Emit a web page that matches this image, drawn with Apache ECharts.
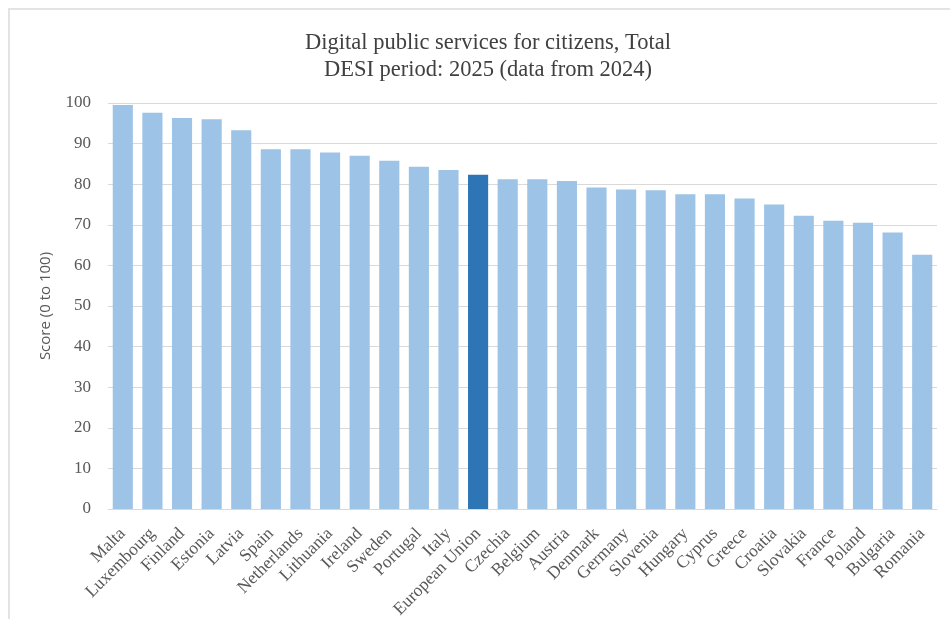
<!DOCTYPE html>
<html><head><meta charset="utf-8">
<script src="https://cdn.jsdelivr.net/npm/echarts@6/dist/echarts.min.js"></script>
<style>html,body{margin:0;padding:0;background:#fff}
#frame{position:absolute;left:8px;top:8px;width:950px;height:619px;border-left:2px solid #e3e3e3;border-top:2px solid #e3e3e3;box-sizing:border-box}
#c{position:absolute;left:0;top:0;width:950px;height:619px}</style>
</head><body><div id="frame"></div><div id="c"></div>
<script>
const categories = ["Malta","Luxembourg","Finland","Estonia","Latvia","Spain","Netherlands","Lithuania","Ireland","Sweden","Portugal","Italy","European Union","Czechia","Belgium","Austria","Denmark","Germany","Slovenia","Hungary","Cyprus","Greece","Croatia","Slovakia","France","Poland","Bulgaria","Romania"];
const scores = [99.5,97.6,96.3,96.0,93.3,88.6,88.6,87.8,87.0,85.8,84.3,83.5,82.3,81.2,81.2,80.8,79.2,78.7,78.5,77.5,77.5,76.5,75.0,72.2,71.0,70.5,68.1,62.6];
const highlight = "European Union";
const yTicks = [0,10,20,30,40,50,60,70,80,90,100];

const chart = echarts.init(document.getElementById('c'));
chart.setOption({
  backgroundColor: 'transparent',
  animation: false,
  title: {
    text: 'Digital public services for citizens, Total\nDESI period: 2025 (data from 2024)',
    left: 483, top: 25, textAlign: 'center',
    textStyle: {fontFamily: 'Liberation Serif', fontSize: 22.5, fontWeight: 'normal', color: '#404040', lineHeight: 27}
  },
  grid: {left: 108, right: 13, top: 103, bottom: 110, containLabel: false, outerBoundsMode: 'none'},
  xAxis: {
    type: 'category', data: categories,
    axisTick: {show: false},
    axisLine: {lineStyle: {color: '#d9d9d9', width: 1}},
    axisLabel: {rotate: 45, interval: 0, fontFamily: 'Liberation Serif', fontSize: 17.5, color: '#595959', margin: 22}
  },
  yAxis: {
    type: 'value', min: yTicks[0], max: yTicks[yTicks.length-1], interval: 10,
    name: 'Score (0 to 100)', nameLocation: 'middle', nameGap: 55,
    nameTextStyle: {fontFamily: 'Open Sans', fontSize: 15, color: '#595959'},
    axisLine: {show: false}, axisTick: {show: false},
    axisLabel: {fontFamily: 'Liberation Serif', fontSize: 17, color: '#595959', margin: 17},
    splitLine: {lineStyle: {color: '#d9d9d9', width: 1}}
  },
  series: [{
    type: 'bar',
    data: scores.map((v, i) => ({value: v, itemStyle: {color: categories[i] === highlight ? '#2e75b6' : '#9dc3e6'}})),
    barCategoryGap: '32%'
  }]
});
</script></body></html>
